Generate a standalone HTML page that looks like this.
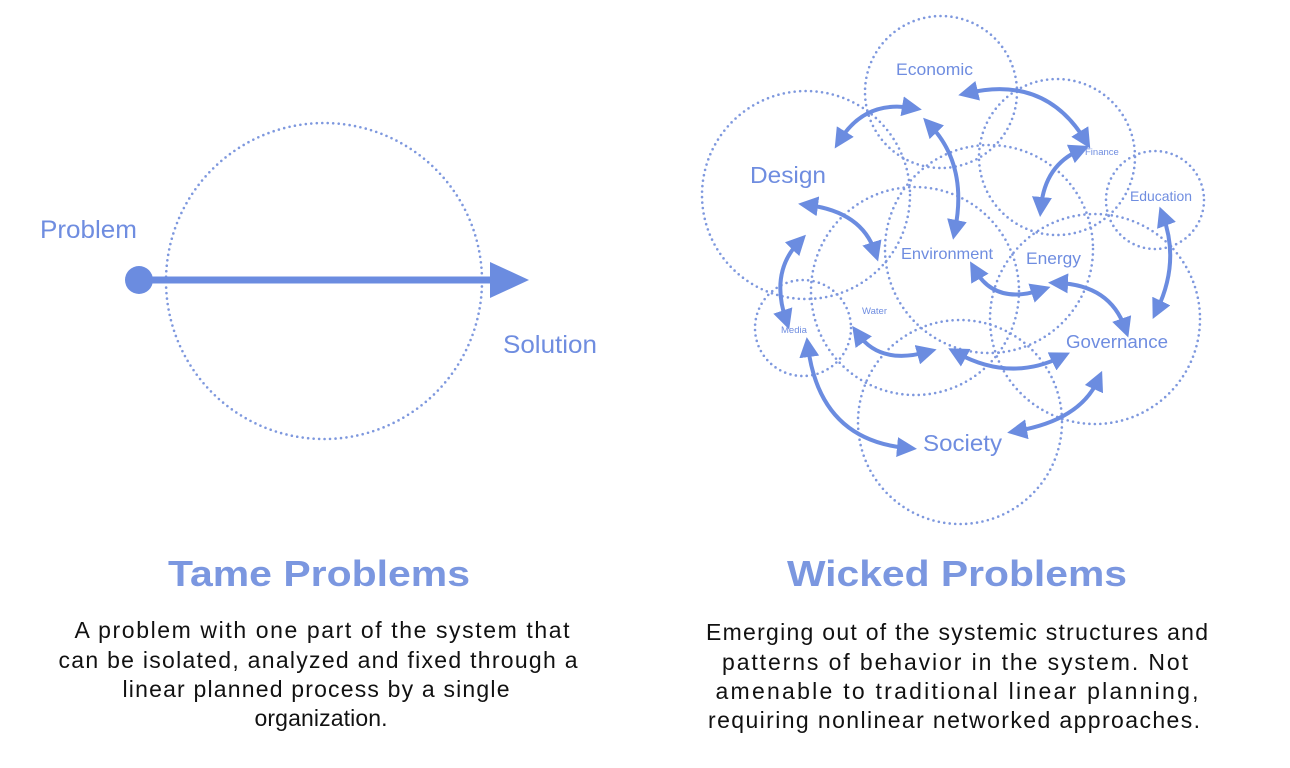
<!DOCTYPE html>
<html><head><meta charset="utf-8"><style>
html,body{margin:0;padding:0;background:#fff;}
svg{display:block;}
text{font-family:"Liberation Sans",sans-serif;}
</style></head><body>
<svg width="1290" height="768" viewBox="0 0 1290 768" xmlns="http://www.w3.org/2000/svg">
<defs>
<marker id="ah" viewBox="0 0 10 10" refX="5" refY="5" markerWidth="5" markerHeight="5" orient="auto-start-reverse" markerUnits="strokeWidth">
<path d="M0,0 L10,5 L0,10 z" fill="#6b8ce0"/>
</marker>
</defs>
<g fill="none" stroke="#7e98de" stroke-width="2.6" stroke-linecap="round" stroke-dasharray="0 5.5">
<circle cx="324" cy="281" r="158"/>
<circle cx="941" cy="92" r="76"/>
<circle cx="806" cy="195" r="104"/>
<circle cx="1057" cy="157" r="78"/>
<circle cx="1155" cy="200" r="49"/>
<circle cx="989" cy="249" r="104"/>
<circle cx="915" cy="291" r="104"/>
<circle cx="1095" cy="319" r="105"/>
<circle cx="803" cy="328" r="48"/>
<circle cx="960" cy="422" r="102"/>
</g>
<circle cx="139" cy="280" r="14" fill="#6b8ce0"/>
<rect x="139" y="276.5" width="355" height="7" fill="#6b8ce0"/>
<path d="M490,262 L529,280 L490,298 z" fill="#6b8ce0"/>
<g fill="none" stroke="#6b8ce0" stroke-width="4" marker-start="url(#ah)" marker-end="url(#ah)">
<path d="M840,140 Q865,100 912,108"/>
<path d="M968,93 Q1045,75 1085,140"/>
<path d="M930,125 Q968,165 955,230"/>
<path d="M1080,150 Q1045,165 1041,207"/>
<path d="M808,205 Q862,212 875,252"/>
<path d="M799,242 Q770,272 786,320"/>
<path d="M975,270 Q995,305 1041,290"/>
<path d="M1058,283 Q1110,285 1125,328"/>
<path d="M1163,216 Q1180,262 1157,310"/>
<path d="M858,334 Q880,365 927,352"/>
<path d="M957,353 Q1010,382 1061,357"/>
<path d="M808,347 Q820,440 907,448"/>
<path d="M1017,431 Q1080,420 1098,380"/>
</g>
<g fill="#6f8de0">
<text x="40" y="238" font-size="25" textLength="97" lengthAdjust="spacingAndGlyphs">Problem</text>
<text x="503" y="353" font-size="25" textLength="94" lengthAdjust="spacingAndGlyphs">Solution</text>
<text x="896" y="75" font-size="17" textLength="77" lengthAdjust="spacingAndGlyphs">Economic</text>
<text x="750" y="183" font-size="23" textLength="76" lengthAdjust="spacingAndGlyphs">Design</text>
<text x="1085" y="155" font-size="9.5">Finance</text>
<text x="1130" y="201" font-size="14" textLength="62" lengthAdjust="spacingAndGlyphs">Education</text>
<text x="901" y="259" font-size="16" textLength="92" lengthAdjust="spacingAndGlyphs">Environment</text>
<text x="1026" y="264" font-size="17" textLength="55" lengthAdjust="spacingAndGlyphs">Energy</text>
<text x="862" y="314" font-size="9.5">Water</text>
<text x="781" y="333" font-size="9.5">Media</text>
<text x="1066" y="348" font-size="18.5" textLength="102" lengthAdjust="spacingAndGlyphs">Governance</text>
<text x="923" y="451" font-size="23" textLength="79" lengthAdjust="spacingAndGlyphs">Society</text>
</g>
<g fill="#7b97e0" font-weight="bold" text-anchor="middle">
<text x="319" y="586" font-size="36" textLength="302" lengthAdjust="spacingAndGlyphs">Tame Problems</text>
<text x="957" y="586" font-size="36" textLength="340" lengthAdjust="spacingAndGlyphs">Wicked Problems</text>
</g>
<g fill="#111" font-size="23" text-anchor="middle" lengthAdjust="spacingAndGlyphs">
<text x="322" y="638" textLength="495">A problem with one part of the system that</text>
<text x="318" y="668" textLength="519">can be isolated, analyzed and fixed through a</text>
<text x="316" y="697" textLength="387">linear planned process by a single</text>
<text x="321" y="726" textLength="133">organization.</text>
<text x="957" y="640" textLength="502">Emerging out of the systemic structures and</text>
<text x="955" y="670" textLength="466">patterns of behavior in the system. Not</text>
<text x="957" y="699" textLength="483">amenable to traditional linear planning,</text>
<text x="954" y="728" textLength="492">requiring nonlinear networked approaches.</text>
</g>
</svg>
</body></html>
